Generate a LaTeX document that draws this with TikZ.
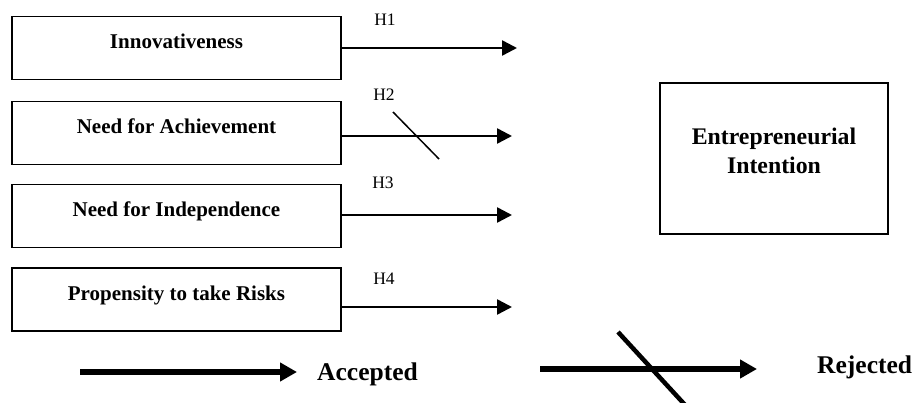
\documentclass[tikz,border=0pt]{standalone}
\usepackage{fontspec}
\setmainfont{Liberation Serif}
\usetikzlibrary{arrows.meta}

\begin{document}
\begin{tikzpicture}[x=1pt,y=-1pt,
    factor/.style={draw,line width=1.8pt,minimum width=329pt,minimum height=63pt,
      inner sep=0pt,font=\fontsize{21}{25}\selectfont\bfseries,
      text height=10pt,text depth=9pt},
    hyp/.style={font=\fontsize{17.5}{20}\selectfont,inner sep=0pt},
    hyparrow/.style={line width=2.5pt,-{Triangle[length=15pt,width=15pt]}},
    legendarrow/.style={line width=6pt,-{Triangle[length=17pt,width=18pt]}},
    legendtext/.style={font=\fontsize{25.5}{30}\selectfont\bfseries,inner sep=0pt}]

  \useasboundingbox (0,0) rectangle (917,403);

  \node[factor] (innov) at (176.5,48) {Innovativeness};
  \node[factor] (achiev) at (176.5,133) {Need for Achievement};
  \node[factor] (indep) at (176.5,216) {Need for Independence};
  \node[factor] (risk) at (176.5,299.5) {Propensity to take Risks};

  \node[draw,line width=1.8pt,minimum width=228pt,minimum height=151pt] (intent) at (774,158.5) {};
  \node[font=\fontsize{23.8}{29}\selectfont\bfseries,align=center,inner sep=0pt] (intenttext)
    at (774,150.5) {Entrepreneurial\\Intention};

  \coordinate (h1end) at (517,48);
  \coordinate (h2end) at (512,136);
  \coordinate (h3end) at (512,215);
  \coordinate (h4end) at (512,307);

  \draw[hyparrow] (innov.east |- h1end) -- (h1end);
  \draw[hyparrow] (achiev.east |- h2end) -- (h2end);
  \draw[hyparrow] (indep.east |- h3end) -- (h3end);
  \draw[hyparrow] (risk.east |- h4end) -- (h4end);

  \node[hyp] (h1) at (385,20) {H1};
  \node[hyp] (h2) at (384,95) {H2};
  \node[hyp] (h3) at (383,183) {H3};
  \node[hyp] (h4) at (384,279) {H4};

  % rejected path
  \draw[line width=1.5pt] (393,112) -- (439,159);

  % legend
  \coordinate (accstart) at (80,372);
  \coordinate (accend) at (297,372);
  \draw[legendarrow] (accstart) -- (accend);
  \node[legendtext,anchor=base west] (acc) at (317,380) {Accepted};

  \coordinate (rejstart) at (540,369);
  \coordinate (rejend) at (757,369);
  \draw[legendarrow] (rejstart) -- (rejend);
  \draw[line width=4.5pt] (618,332) -- (686,406);
  \node[legendtext,anchor=base west] (rej) at (817,373) {Rejected};

\end{tikzpicture}
\end{document}
